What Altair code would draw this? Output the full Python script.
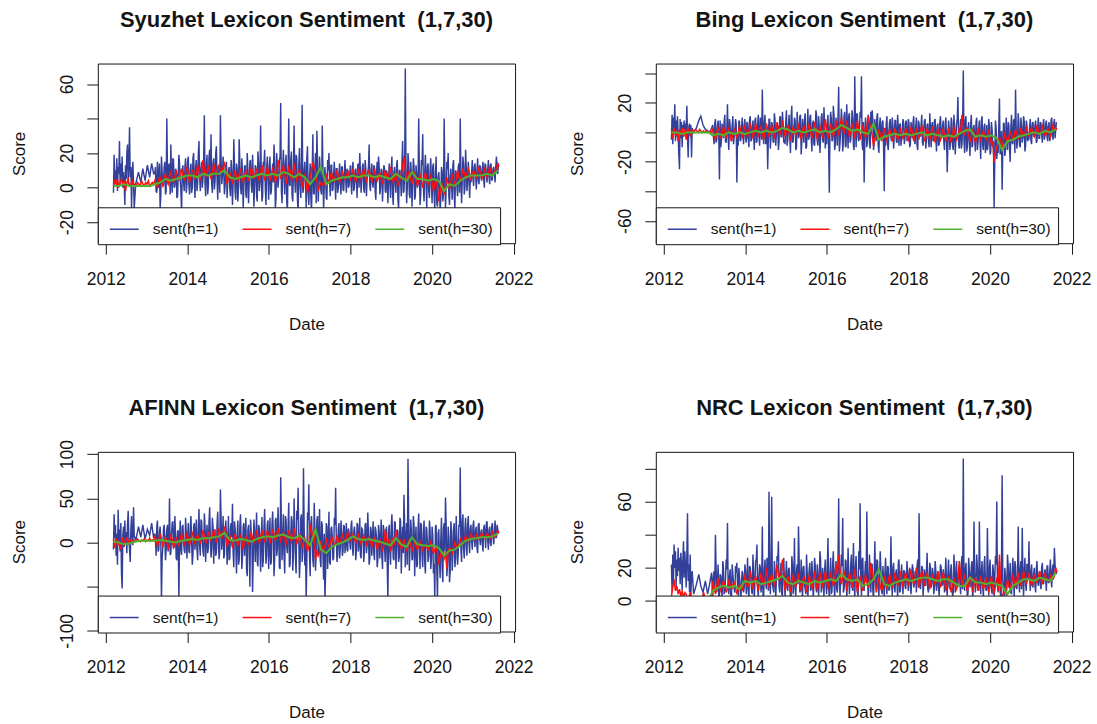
import altair as alt
import pandas as pd

# ---- series names / colours -------------------------------------------------
SERIES = ["sent(h=1)", "sent(h=7)", "sent(h=30)"]
COLORS = ["#33409a", "#ff1010", "#4fb22e"]

# ---- date grids ---------------------------------------------------------------
EARLY_START = "2012-03-10"      # first months, daily scores every ~6 days
GAP_DATES = ["2012-09-25", "2012-10-20", "2012-11-10", "2012-11-28", "2012-12-18",
             "2013-01-08", "2013-01-28", "2013-02-15", "2013-03-05"]
DENSE_START = "2013-03-15"      # regular coverage from here on
MID_START_H1 = "2013-03-21"     # in-between days of the h=1 series
MID_START_H7 = "2013-03-27"     # in-between days of the h=7 series

# ---- Syuzhet ----------------------------------------------------------------
SYUZHET_H1_EARLY = [-3, 19, 2, 10, 4, 17, -2, 12, 8, 27, 1, 14, 6, 18, 0, 9, 3, -10, 13, 5,
                    20, 25, 2, 15, 35, 6, 12, -12, 8, 15, 2, -12]
SYUZHET_H1_GAP = [2, 9, 3, 11, 4, 13, 6, 14, 8]
SYUZHET_H1 = [
    8, -2, 15, 0, -12, 18, 2, 12, -4, 40, 3, 14, 25, -3, 16, 1, 10, -5, 19, 4, -15, 13, -2, 17,
    2, 18, -4, 14, 0, 20, -6, 16, 3, 27, -2, 15, 5, 42, -5, 19, 1, 22, 31, -3, 17, 4, 24, -7, 13, 42, 2, 18, -4, 12,
    -6, 10, 0, 16, -10, 28, -3, 14, -8, 28, 1, 17, -12, 12, -4, 20, -9, 15, 2, 19, -11, 13, -5, 21, -2, 36, -8, 15, 22, -10, 18,
    -7, 18, -2, 14, 25, -12, 20, 0, 16, 49, -9, 22, -4, 19, -13, 40, 1, 21, -8, 36, -3, 17, -14, 23, -6, 48, -1, 15, -12, 24,
    -10, 14, -14, 31, -4, 20, 33, -8, 18, -2, 36, -13, 12, -6, 16, 20, -5, 13, -1, 15, -7, 11, 0, 14, -4, 12, -2, 16, -3, 10,
    1, 13, -4, 15, 0, 11, -6, 14, 20, -3, 12, -1, 16, -5, 9, 25, -2, 14, 0, 12, -7, 15, 18, -4, 11, -8, 13, -2, 10, -9,
    14, -6, 18, -10, 12, -3, 16, -12, 10, -5, 27, -2, 69, -9, 20, -4, 15, -11, 17, -7, 13, 0, 40, -10, 16, 31, -8, 19, -12, 14,
    -6, 17, -9, 14, -13, 18, -11, 9, -14, 12, -8, 40, -12, 15, 20, -10, 11, -7, 16, -13, 8, -5, 14, 40, -9, 18, -4, 22, -2, 15, -6,
    3, 16, 1, 14, -1, 17, 2, 12, 4, 15, 0, 13, 3, 16, 2, 14, 5, 12, 3, 18, 8,
]
SYUZHET_H1_MID = [
    12, -3, 6, 14, -5, 9, 1, 15, -2, 8, 13, -4, 5, 17, 0, 11, -6, 7, 14, -1, 9, 3, 12, -3,
    15, 1, 10, -3, 17, 4, 12, -2, 19, 6, 11, 0, 16, 3, 13, -4, 18, 8, 2, 14, -1, 20, 5, 12, -3, 17, 7, 10, 1, 15,
    4, 12, -5, 9, 3, 14, -7, 11, 0, 15, -4, 8, 2, 13, -6, 10, 4, 16, -3, 7, 1, 12, -8, 14, 3, 9, -5, 13, 0, 11, 6,
    12, -4, 8, 3, 15, -6, 10, 5, 18, -2, 12, 7, 14, -8, 9, 2, 16, -5, 11, 4, 19, -7, 13, 1, 15, -3, 10, 6, 17, -4,
    5, -6, 9, -3, 12, -9, 14, 2, 8, -4, 11, 1, 6, -7, 10, 3, 13, -2, 7, 4, 11, -3, 9, 2, 12, -1, 8, 5, 11, 0,
    8, 3, 12, -2, 10, 5, 13, 0, 9, 4, 14, -3, 11, 6, 12, 1, 10, 3, 13, -2, 9, 6, 12, 0, 10, 4, 11, -3, 8, 5,
    3, 11, -4, 9, 2, 13, -7, 10, 4, 15, -3, 8, 11, 1, 14, -6, 9, 3, 12, -5, 7, 2, 10, -4, 13, 0, 9, 5, 12, -2,
    10, 2, 12, -4, 8, -9, 6, 1, -6, 9, -3, 7, 0, 11, -5, 6, 2, 13, -4, 10, 1, 12, -3, 8, 4, 13, 0, 11, 3, 9, 5,
    9, 5, 12, 7, 10, 4, 13, 6, 11, 5, 14, 7, 10, 6, 13, 4, 11, 8, 12, 9, 14,
]
SYUZHET_H7_EARLY = [1, 4, 2, 5, 0, 3, 5, 1, 4, -2, 3, 5, 1, 2, 4, 1, 2, 1, 3, 2, 1, 4, 2, 1, 3, 2, 4, 1, 2, 3, 2]
SYUZHET_H7 = [
    4, 0, 6, 1, 8, 2, 9, 3, 10, 5, 11, 4,
    12, 3, 10, 5, 13, 4, 16, 6, 12, 5, 14, 7, 13, 9, 14,
    2, 9, 3, 10, 4, 11, 3, 10, 4, 12, 5, 11, 4, 13, 5,
    12, 4, 11, 3, 16, 5, 13, 2, 12, 4, 14, 3, 11, 0, 8,
    -3, 6, 15, 9, -2, 3, 1, 8, 3, 9, 4, 10, 3, 9, 5,
    10, 4, 11, 3, 10, 5, 11, 4, 10, 3, 11, 4, 9, 2, 10,
    4, 12, 3, 9, 1, 8, 18, 5, 10, 2, 9, 1, 8, 0, 9,
    2, 7, -2, 5, -8, 3, -4, 6, -1, 8, 2, 10, 4, 11, 5,
    11, 5, 10, 6, 12, 5, 11, 6, 12, 7, 10, 14,
]
SYUZHET_H7_MID = [
    2, 5, 3, 6, 4, 7, 5, 6, 7, 8, 7, 9,
    8, 7, 9, 8, 10, 9, 11, 10, 9, 8, 10, 11, 9, 12, 10,
    6, 5, 7, 6, 8, 7, 6, 8, 7, 9, 8, 7, 9, 8, 7,
    8, 7, 9, 7, 11, 8, 9, 7, 10, 8, 9, 7, 6, 4, 3,
    2, 10, 12, 4, 1, 2, 4, 5, 6, 5, 7, 6, 6, 7, 6,
    7, 8, 6, 7, 8, 7, 6, 8, 7, 6, 7, 6, 5, 6, 7,
    8, 7, 5, 4, 5, 12, 10, 7, 5, 6, 4, 5, 4, 5, 4,
    5, 3, 2, 0, -3, -1, 1, 2, 3, 4, 5, 6, 7, 8, 8,
    8, 7, 8, 9, 8, 7, 9, 8, 9, 8, 11, 12,
]
SYUZHET_H30_EARLY = [1, 1, 2, 1, 1, 1, 1, 1]
SYUZHET_H30 = [2, 3, 5, 4, 5, 6, 7, 7, 6, 8, 7, 8, 8, 10, 6, 5, 6, 7, 6, 7, 8, 7, 8, 7, 9, 8,
               6, 8, 6, 2, 6, 12, 2, 4, 5, 6, 6, 7, 6, 7, 7, 6, 7, 6, 5, 8, 6, 4, 9, 5, 5, 4,
               5, 4, -2, 2, 1, 4, 6, 7, 7, 7, 8, 7, 10]

# ---- Bing ---------------------------------------------------------------------
BING_H1_EARLY = [-5, 12, -8, 10, 2, 19, -6, 8, -3, 11, 0, -15, -25, 9, -4, 7, -10, 5, 2, 8,
                 -2, 6, 1, 18, -3, -17, 4, 6, -2, 5, -17, 3]
BING_H1_GAP = [0, 3, 8, 11, 5, 2, 1, 0, 3]
BING_H1 = [
    5, -8, 9, -5, 8, -32, -10, 6, -4, 12, -7, 19, -12, 4, -6, 11, -3, 9, -34, -9, 7, -5, 10, -8,
    9, -7, 6, -10, 11, -5, 8, -12, 10, -6, 12, -9, 7, 29, -8, 12, -4, -25, 9, -11, 7, -6, 13, -9, 5, -12, 10, -3, 14, -7,
    -8, 15, -5, 12, -14, 18, -6, 10, -12, 14, -4, 11, -15, 9, -7, 13, -10, 16, -3, 12, -13, 8, -9, 15, -6, 11, -14, 10, -5, 17, -11,
    -8, 12, -41, 14, -6, 18, -12, 10, -9, 31, -7, 16, -13, 11, -10, 19, -11, 13, -5, 15, -9, 38, -10, 12, -6, 14, 38, -12, -34, 10,
    -10, 12, -8, 14, 15, -12, 9, -6, 13, -14, 10, -5, 8, -40, -9, 11, -12, 7, -4, 10, -11, 8, -6, 12, -9, 6, -3, 9, -8, 7,
    -6, 9, -10, 7, -4, 11, -8, 10, -12, 6, -3, 12, -9, 8, -11, 5, -6, 13, -10, 7, -5, 9, -13, 6, -8, 11, -4, 8, -12, 10,
    -27, 8, -12, 10, -9, 12, -15, 6, 24, -11, 9, -8, 42, -14, 11, -10, 7, -16, 12, -9, 5, -13, 10, -7, 8, -18, 11, -12, 6, -10,
    -12, 9, -15, 7, -10, -52, 8, -18, -14, 23, -10, -39, 6, -16, 10, -12, 5, -20, 12, -8, 9, 29, -11, 13, -9, 10, -7, 11, -13, 8, -6,
    -5, 9, -8, 7, -3, 8, -6, 10, -4, 6, -7, 9, -2, 8, -6, 7, -3, 10, -5, 9, 2,
]
BING_H1_MID = [
    -3, 6, -7, 4, -1, 8, -5, 3, 7, -6, 2, -4, 9, -2, 5, -8, 1, 6, -3, 8, -6, 3, -1, 5,
    -4, 7, -2, 9, -6, 4, -1, 8, -7, 5, -3, 10, -5, 2, 6, -8, 3, -4, 9, -2, 5, -7, 8, -1, 4, -6, 11, -3, 6, -5,
    7, -9, 4, -3, 11, -7, 2, 8, -10, 5, -2, 12, -6, 3, 9, -11, 1, -5, 10, -4, 6, -8, 2, 11, -9, 4, -3, 13, -7, 5, 1,
    6, -11, 3, 9, -5, 12, -8, 4, 10, -13, 2, 8, -6, 14, -9, 5, 11, -7, 3, 9, -12, 6, 13, -4, 2, 10, -8, 7, -6, 4,
    -5, 9, -11, 4, 8, -7, 2, 10, -9, 5, -3, 7, -10, 3, 6, -8, 1, 9, -6, 4, -2, 8, -7, 3, 5, -9, 2, 6, -4, 8,
    -3, 6, -8, 2, 7, -5, 4, -9, 8, -2, 5, -7, 3, 9, -4, 6, -10, 2, 5, -6, 8, -3, 4, -9, 7, -1, 3, -7, 6, -4,
    -9, 3, -6, 7, -12, 4, -3, 9, -8, 2, -11, 6, -5, 8, -13, 1, -7, 5, -10, 3, -4, 7, -12, 2, -6, 8, -9, 4, -14, 5,
    -8, 4, -13, 2, -6, -18, 3, -10, 5, -15, 1, -9, 6, -12, -2, 7, -11, 3, -7, 8, -14, 2, -5, 6, -10, 4, -3, 7, -9, 5, -4,
    4, -6, 6, -2, 5, -7, 3, -4, 7, -1, 5, -5, 6, -3, 4, -6, 8, -2, 6, -4, 7,
]
BING_H7_EARLY = [2, -4, 3, -2, 1, -6, 2, -1, 3, -3, 2, -5, 3, 1, -2, 2, 0, 1, 2, 1, 0, 2, 1, 0, 1, 0, 1, 0, 0, 1, 0]
BING_H7 = [
    2, -5, 3, -4, 4, -3, 3, -6, 2, -4, 5, -3,
    4, -3, 5, -4, 6, -2, 4, -5, 6, -3, 5, -4, 7, -2, 8,
    -3, 5, -6, 4, -2, 6, -5, 5, -3, 6, -4, 7, -5, 4, -3,
    9, -4, 6, -3, 8, -2, 10, -1, 7, -3, 6, -4, 8, -5, 5,
    -4, 11, 3, -9, -4, 2, -6, 3, -5, 2, -6, 3, -5, 2, -4,
    3, -5, 4, -6, 2, -4, 5, -6, 3, -5, 4, -7, 2, -5, 3,
    -6, 3, -7, 4, -5, 2, 12, -2, 3, -6, 2, -7, 3, -5, 1,
    -5, 2, -8, -20, -10, -3, -12, -1, -7, 0, -5, 2, -4, 3, -3,
    4, -2, 3, -3, 5, -1, 4, -2, 3, -3, 5, 3,
]
BING_H7_MID = [
    -1, 0, 1, -1, 0, 1, -2, 0, 1, -1, 0, 1,
    0, 1, 2, 0, 1, 2, 0, 1, 2, 1, 0, 2, 3, 2, 3,
    1, 0, -1, 1, 2, 0, 1, 0, 2, 1, 0, 2, 1, 0, 1,
    2, 1, 3, 1, 2, 4, 3, 5, 2, 1, 3, 1, 2, 0, 1,
    3, 6, -2, -4, -3, -1, -2, -1, -2, -1, -3, -1, -2, -1, -2,
    -1, -2, 0, -1, -2, 0, -1, -3, -1, 0, -2, -1, -2, -1, -2,
    -2, -3, -1, -2, -3, 0, 4, 2, -2, -3, -1, -3, -2, -1, -3,
    -2, -4, -6, -14, -8, -6, -5, -4, -3, -2, -3, -1, -2, 0, -1,
    0, 1, -1, 0, 1, 0, 1, -1, 0, 1, 2, 2,
]
BING_H30_EARLY = [0, 0, -1, 0, 0, 0, 0, 0]
BING_H30 = [-2, -1, -2, 0, -1, 0, -1, 0, 1, 0, 1, 0, 1, 3, 2, 0, 1, 0, 1, 2, 0, 1, 0, 2, 5, 3,
            1, 2, 0, -1, 6, -5, -3, -2, -1, -2, -1, -2, -1, 0, -2, -1, -2, -3, -2, -3, -1, 1,
            2, -3, -2, -3, -2, -4, -12, -6, -5, -3, -2, -1, 0, -1, 1, 0, 2]

# ---- AFINN --------------------------------------------------------------------
AFINN_H1_EARLY = [-8, 32, 5, 20, -15, 10, -25, 37, 2, 15, -10, 22, -35, -52, 8, 18, -5, 25, 0, 12,
                  -12, 20, 36, 4, -8, -22, 15, 30, 5, -3, 40, 8]
AFINN_H1_GAP = [2, 18, 6, 20, 4, 15, 8, 22, 5]
AFINN_H1 = [
    10, -15, 25, -8, 18, -65, -5, 20, -20, 15, -10, 50, -12, 22, -6, 30, -18, 12, -65, 25, -14, 20, -9, 28,
    -18, 22, -12, 30, -25, 18, -8, 26, -20, 38, -15, 24, -10, 33, -22, 20, -6, 40, -17, 28, -24, 15, -11, 35, -19, 60, -8, 30, -14, 25,
    -25, 30, -18, 22, 44, -28, 15, -35, 25, -20, 32, -30, 18, -15, 28, -38, 20, -50, 12, -56, 26, -22, 34, -27, 16, -33, 29, -20, 38, -24, 21,
    -30, 28, -22, 35, -38, 25, -15, 40, -28, 74, -20, 32, -35, 26, -12, 45, -25, 30, -32, 50, -18, 36, 62, -40, 28, -22, 84, -26, -65, 34,
    66, -38, 30, -20, 45, -32, 25, -15, 38, -28, 20, -42, -65, 22, -30, 35, -25, 18, -20, 28, 62, -22, 15, -18, 25, -15, 20, -12, 22, -10,
    12, -8, 25, -15, 18, -20, 22, -10, 28, -18, 15, -22, 20, -12, 34, -25, 18, -15, 24, -20, 14, -28, 20, -18, 26, -30, 15, -22, 18, -65,
    20, -25, 32, -18, 24, -30, 15, -22, 28, -35, 18, 54, -28, 22, 95, -32, 26, -20, 30, -38, 18, -25, 33, -30, 20, -28, 25, -35, 15, -22,
    25, -30, 18, -35, -65, 20, -65, 15, -40, 28, -45, 22, 51, -38, 18, -45, 24, -32, 15, -28, 30, -25, 20, 85, -22, 32, -18, 28, -15, 30, -12,
    20, -8, 25, -5, 18, -12, 22, -3, 15, -10, 20, -6, 24, -8, 18, -4, 22, -2, 25, 5, 15,
]
AFINN_H1_MID = [
    5, 18, -10, 12, 2, -18, 15, 6, -8, 20, 0, -14, 10, 24, -5, 8, -20, 14, 3, -9, 18, 1, -12, 11,
    4, -10, 18, 2, -14, 22, 6, -8, 15, -3, 26, 1, -16, 19, 8, -12, 24, 3, -6, 17, 10, -15, 21, 0, -9, 28, 5, -18, 14, 9,
    2, -20, 16, 6, -12, 24, -4, 10, -25, 19, 3, -15, 22, 7, -30, 14, -5, 26, 0, -18, 12, 5, -22, 20, -2, 9, -28, 17, 4, -14, 25,
    0, -25, 20, 6, -18, 28, -8, 14, -30, 22, 3, -15, 30, -5, 18, -28, 10, 24, -12, 16, -35, 26, 4, -20, 32, -10, 18, 2, -22, 25,
    -15, 22, 5, -28, 16, -8, 30, 2, -20, 24, -12, 10, -35, 18, 0, -22, 15, 6, -18, 20, 3, -14, 22, -5, 12, -10, 18, 2, -8, 16,
    2, 18, -5, 12, 8, -10, 20, 0, -14, 16, 5, -8, 22, -3, 10, -18, 14, 4, -12, 18, 6, -20, 12, 2, -16, 20, -4, 10, -24, 12,
    -10, 18, 4, -20, 22, -6, 12, -16, 24, 0, -12, 20, 6, -25, 26, -8, 14, -18, 20, 2, -28, 16, -4, 22, -14, 10, -22, 18, 0, -15,
    14, -18, 8, -24, 18, -30, 10, -20, 4, -28, 16, -10, 20, -25, 6, -32, 12, -14, 22, -18, 2, -12, 18, -8, 24, -6, 15, -4, 20, 0, 16,
    2, 18, 4, 14, -6, 20, 6, 12, -2, 16, 8, 22, 3, 14, 0, 19, 6, 12, 8, 20, 10,
]
AFINN_H7_EARLY = [4, -6, 5, -3, 2, -8, 0, 6, -4, 3, 5, -2, 4, 2, 0, 3, 1, 2, 4, 2, 1, 3, 2, 4, 1, 3, 2, 5, 2, 3, 2]
AFINN_H7 = [
    8, -4, 10, -5, 6, -8, 9, -6, 5, -4, 10, -2,
    10, -3, 12, -2, 9, 0, 14, -1, 12, 2, 15, 0, 16, 5, 18,
    -5, 8, -6, 10, -4, 9, -8, 7, -3, 12, 0, 14, -1, 13, 2,
    14, -1, 15, 2, 17, 0, 12, -3, 14, 1, 16, -2, 10, -6, 5,
    -10, 20, 8, -20, -15, 2, -8, 5, -5, 7, -3, 8, -1, 10, 2,
    12, 3, 10, 0, 9, -2, 8, -4, 6, -5, 5, -8, 3, -10, 15,
    -2, -10, 6, 14, -3, -8, 4, -10, 3, -9, 2, -8, 1, -10, -2,
    -8, 2, -12, -5, -25, -10, -18, -30, -6, -12, 0, -5, 4, -2, 8,
    2, 10, 3, 9, 4, 11, 5, 10, 4, 12, 6, 14,
]
AFINN_H7_MID = [
    3, 2, 4, 1, 2, 0, 3, 1, 2, 3, 4, 3,
    5, 4, 6, 5, 4, 6, 7, 5, 6, 7, 8, 6, 9, 10, 12,
    3, 2, 4, 3, 2, 1, 3, 2, 5, 4, 6, 7, 6, 8, 7,
    8, 7, 9, 8, 10, 7, 6, 5, 7, 6, 8, 4, 3, 0, -2,
    -4, 12, 16, -8, -12, -6, -4, -2, -1, 1, 0, 2, 3, 4, 5,
    7, 6, 5, 4, 3, 4, 3, 2, 1, 2, 0, -1, -2, -3, 4,
    5, -4, -3, 6, 4, -2, -3, -4, -2, -5, -3, -4, -3, -4, -5,
    -4, -6, -8, -12, -16, -14, -10, -9, -8, -6, -4, -2, 0, 2, 3,
    5, 6, 5, 7, 6, 7, 6, 8, 7, 8, 9, 11,
]
AFINN_H30_EARLY = [1, 0, -2, -1, 1, 2, 2, 2]
AFINN_H30 = [2, 3, 2, 1, 0, 2, 3, 4, 3, 5, 5, 6, 7, 11, 3, 2, 4, 3, 1, 4, 6, 7, 6, 8, 9, 6,
             5, 8, 3, -3, 15, -8, -12, -5, -2, 0, 3, 7, 4, 3, 4, 2, 1, -1, -3, 5, -2, -5, 6,
             -2, -3, -4, -3, -6, -15, -9, -8, -3, 2, 4, 5, 6, 6, 7, 10]

# ---- NRC ----------------------------------------------------------------------
NRC_H1_EARLY = [22, 5, 28, 12, 34, 20, 30, 8, 25, 15, 32, 18, 26, 10, 29, 22, 6, 24, 36, 14,
                30, 20, 8, 27, 53, 12, 22, 5, 28, 3, 15, 18]
NRC_H1_GAP = [4, 10, 16, 9, 5, 12, 4, 10, 17]
NRC_H1 = [
    2, 18, 40, 5, 22, 3, 15, 1, 20, 6, 25, 47, 4, 19, 2, 16, 7, 21, 23, 3, 14, 0, 18, 5,
    22, 4, 26, 2, 20, 6, 28, 1, 24, 34, 3, 22, 5, 45, 2, 25, 7, 20, 66, 4, 63, 8, 24, 1, 27, 36, 5, 23, 3, 26,
    2, 24, 6, 20, 1, 27, 4, 38, 3, 22, 45, 5, 25, 0, 21, 7, 28, 2, 19, 6, 24, 1, 26, 8, 22, 3, 30, 5, 20, 2, 25,
    4, 38, 2, 26, 6, 30, 1, 24, 5, 62, 3, 28, 50, 7, 25, 2, 32, 4, 22, 8, 35, 1, 27, 5, 30, 59, 3, 26, 6, 24,
    54, 2, 28, 5, 22, 1, 36, 8, 24, 3, 30, 6, 21, 2, 26, 4, 20, 7, 39, 3, 23, 5, 19, 1, 25, 6, 22, 4, 18, 7,
    24, 6, 20, 4, 22, 8, 18, 5, 25, 53, 7, 21, 3, 19, 9, 29, 5, 23, 8, 20, 4, 24, 6, 18, 3, 22, 9, 19, 5, 26,
    3, 25, 7, 22, 2, 28, 5, 24, 9, 20, 4, 27, 86, 6, 23, 3, 26, 8, 21, 1, 48, 5, 28, 7, 48, 4, 24, 2, 27, 6,
    44, 3, 25, 7, 22, 2, 27, 60, 5, 24, 1, 76, 6, 20, 3, 28, 8, 23, 4, 26, 2, 21, 7, 45, 5, 24, 44, 3, 26, 6, 22,
    36, 6, 22, 8, 20, 5, 24, 9, 18, 7, 23, 10, 19, 6, 21, 11, 25, 8, 22, 32, 18,
]
NRC_H1_MID = [
    14, 6, 20, 9, 3, 16, 10, 24, 4, 13, 19, 7, 15, 2, 22, 11, 5, 17, 9, 20, 6, 12, 16, 8,
    18, 10, 6, 21, 13, 4, 17, 11, 25, 7, 15, 20, 9, 3, 19, 12, 26, 6, 14, 22, 10, 5, 18, 13, 24, 9, 16, 4, 20, 12,
    15, 8, 19, 11, 3, 22, 13, 7, 18, 10, 24, 6, 14, 20, 9, 4, 17, 12, 23, 7, 15, 10, 21, 5, 16, 12, 25, 8, 14, 18, 10,
    20, 9, 15, 4, 22, 12, 18, 7, 26, 10, 16, 21, 5, 14, 24, 9, 17, 11, 28, 6, 15, 20, 10, 3, 19, 13, 25, 8, 16, 11,
    18, 9, 14, 22, 6, 16, 12, 25, 8, 15, 19, 4, 13, 17, 10, 21, 6, 14, 11, 20, 8, 16, 12, 23, 5, 15, 10, 18, 9, 14,
    12, 17, 9, 14, 19, 10, 15, 21, 8, 16, 12, 20, 10, 15, 18, 7, 14, 20, 11, 16, 9, 18, 13, 8, 15, 20, 10, 14, 17, 9,
    16, 9, 18, 12, 5, 20, 14, 8, 17, 11, 22, 7, 15, 19, 10, 4, 18, 13, 24, 9, 16, 12, 20, 6, 15, 18, 9, 21, 12, 8,
    15, 20, 10, 4, 18, 13, 22, 9, 16, 6, 19, 12, 3, 15, 8, 21, 11, 5, 17, 14, 24, 9, 16, 11, 20, 7, 15, 18, 10, 22, 13,
    14, 18, 11, 16, 9, 19, 13, 15, 10, 20, 12, 16, 14, 21, 11, 17, 13, 19, 15, 22, 16,
]
NRC_H7_EARLY = [3, 8, 13, 6, 9, 4, 7, 3, 6, 2, 5, 4, 1, 2, 5, 1, 0, 2, 1, 0, 1, 2, 0, 1, 5, 2, 0, 1, 0, 2, 1]
NRC_H7 = [
    12, 4, 14, 6, 12, 5, 13, 7, 11, 4, 10, 6,
    16, 8, 18, 7, 15, 6, 17, 9, 20, 8, 16, 10, 22, 12, 25,
    6, 15, 5, 16, 8, 17, 6, 15, 5, 16, 7, 18, 6, 17, 8,
    18, 7, 17, 9, 22, 28, 10, 18, 6, 17, 8, 19, 5, 15, 6,
    16, 8, 23, 12, 5, 14, 6, 15, 7, 16, 8, 17, 9, 18, 8,
    17, 9, 19, 10, 20, 8, 18, 9, 17, 7, 16, 10, 18, 8, 17,
    6, 15, 5, 14, 7, 24, 9, 16, 6, 15, 5, 14, 6, 15, 7,
    14, 5, 15, 4, 14, 28, 3, 6, 13, 7, 16, 8, 17, 9, 18,
    10, 17, 9, 16, 11, 18, 10, 17, 12, 16, 13, 20,
]
NRC_H7_MID = [
    8, 9, 8, 10, 9, 8, 9, 10, 8, 7, 9, 10,
    12, 11, 13, 12, 11, 12, 13, 12, 14, 13, 12, 13, 15, 16, 17,
    11, 10, 12, 11, 12, 10, 11, 12, 10, 11, 12, 11, 12, 13, 12,
    13, 12, 13, 12, 16, 18, 14, 13, 12, 13, 12, 13, 10, 9, 10,
    11, 13, 18, 15, 10, 9, 10, 11, 12, 11, 12, 13, 12, 13, 14,
    13, 14, 13, 14, 15, 14, 13, 14, 13, 12, 13, 12, 13, 12, 13,
    10, 9, 10, 9, 12, 15, 13, 11, 10, 11, 10, 11, 10, 11, 10,
    9, 10, 8, 9, 6, 8, 4, 7, 9, 11, 12, 13, 12, 13, 14,
    13, 12, 13, 12, 14, 13, 14, 13, 12, 13, 15, 17,
]
NRC_H30_EARLY = [1, 2, 2, 1, 1, 1, 1, 1]
NRC_H30 = [6, 8, 9, 8, 9, 7, 12, 11, 12, 10, 11, 12, 13, 15, 11, 10, 12, 11, 10, 12, 11, 12,
           13, 12, 16, 13, 12, 13, 9, 10, 13, 19, 10, 9, 11, 12, 13, 12, 13, 14, 14, 13, 12,
           13, 13, 11, 9, 9, 14, 11, 11, 10, 11, 10, 9, 4, 9, 11, 13, 13, 12, 14, 13, 12, 17]


def dates(start, n, step):
    return list(pd.date_range(start, periods=n, freq=step))


def frame(h1_early, h1_gap, h1, h1_mid, h7_early, h7, h7_mid, h30_early, h30):
    parts = [
        (SERIES[0],
         dates(EARLY_START, len(h1_early), "6D") + list(pd.to_datetime(GAP_DATES))
         + dates(DENSE_START, len(h1), "12D") + dates(MID_START_H1, len(h1_mid), "12D"),
         h1_early + h1_gap + h1 + h1_mid),
        (SERIES[1],
         dates(EARLY_START, len(h7_early), "12D") + dates(DENSE_START, len(h7), "24D")
         + dates(MID_START_H7, len(h7_mid), "24D"),
         h7_early + h7 + h7_mid),
        (SERIES[2],
         dates(EARLY_START, len(h30_early), "48D") + dates(DENSE_START, len(h30), "48D"),
         h30_early + h30),
    ]
    frames = [pd.DataFrame({"date": d, "value": v, "series": s}) for s, d, v in parts]
    return pd.concat(frames, ignore_index=True).sort_values(["series", "date"])


FONT = "Liberation Sans"
INK = "#141414"
PLOT_W, PLOT_H = 418, 180
X_DOMAIN = [alt.DateTime(year=2011, month=10, date=22), alt.DateTime(year=2022, month=1, date=14)]
YEAR_TICKS = [alt.DateTime(year=y, month=1, date=1) for y in range(2012, 2023, 2)]


def panel(title, df, y_domain, y_ticks, y_labelled):
    expr = "indexof([%s], datum.value) >= 0 ? '' + datum.value : ''" % ",".join(str(v) for v in y_labelled)
    x = alt.X("date:T", scale=alt.Scale(domain=X_DOMAIN),
              axis=alt.Axis(values=YEAR_TICKS, format="%Y", title="Date", labelAngle=0,
                            labelPadding=16, tickSize=11, domain=False, grid=False,
                            labelFlush=False, labelOverlap=False,
                            titleX=PLOT_W / 2, titleY=81, titleBaseline="middle"))
    y = alt.Y("value:Q", scale=alt.Scale(domain=y_domain, nice=False, zero=False),
              axis=alt.Axis(values=y_ticks, labelExpr=expr, title="Score", labelAngle=270,
                            labelAlign="center", labelBaseline="bottom", labelPadding=10,
                            tickSize=11, domain=False, grid=False, labelFlush=False,
                            labelOverlap=False, titleX=-78, titleY=PLOT_H / 2, titleAngle=270,
                            titleAlign="center", titleBaseline="middle"))
    color = alt.Color("series:N", scale=alt.Scale(domain=SERIES, range=COLORS),
                      legend=alt.Legend(orient="none", legendX=0, legendY=144, direction="horizontal",
                                        title=None, fillColor="white", strokeColor=INK, padding=6.5,
                                        symbolType="stroke", symbolSize=841, symbolStrokeWidth=1.5,
                                        symbolOffset=4.5, labelFont=FONT, labelFontSize=15.5,
                                        labelColor=INK, labelOffset=13, columnPadding=9,
                                        gridAlign="all"))
    base = alt.Chart(df)
    layers = [
        base.transform_filter(alt.datum.series == s)
        .mark_line(strokeWidth=w, clip=True)
        .encode(x=x, y=y, color=color)
        for s, w in zip(SERIES, [1.45, 1.5, 2.0])
    ]
    heading = (
        alt.Chart(pd.DataFrame({"heading": [title]}))
        .mark_text(font=FONT, fontSize=22, fontWeight="bold", color=INK,
                   align="center", baseline="middle")
        .encode(text="heading:N", x=alt.value(PLOT_W / 2), y=alt.value(-44))
    )
    return alt.layer(*layers, heading).properties(width=PLOT_W, height=PLOT_H)


NB = "\u00a0"   # keeps the double gap before the window list
p1 = panel(f"Syuzhet Lexicon Sentiment{NB} (1,7,30)",
           frame(SYUZHET_H1_EARLY, SYUZHET_H1_GAP, SYUZHET_H1, SYUZHET_H1_MID,
                 SYUZHET_H7_EARLY, SYUZHET_H7, SYUZHET_H7_MID, SYUZHET_H30_EARLY, SYUZHET_H30),
           [-32.2, 71.9], [-20, 0, 20, 40, 60], [-20, 0, 20, 60])
p2 = panel(f"Bing Lexicon Sentiment{NB} (1,7,30)",
           frame(BING_H1_EARLY, BING_H1_GAP, BING_H1, BING_H1_MID,
                 BING_H7_EARLY, BING_H7, BING_H7_MID, BING_H30_EARLY, BING_H30),
           [-75.2, 46.7], [-60, -40, -20, 0, 20, 40], [-60, -20, 20])
p3 = panel(f"AFINN Lexicon Sentiment{NB} (1,7,30)",
           frame(AFINN_H1_EARLY, AFINN_H1_GAP, AFINN_H1, AFINN_H1_MID,
                 AFINN_H7_EARLY, AFINN_H7, AFINN_H7_MID, AFINN_H30_EARLY, AFINN_H30),
           [-100.7, 102.7], [-100, -50, 0, 50, 100], [-100, 0, 50, 100])
p4 = panel(f"NRC Lexicon Sentiment{NB} (1,7,30)",
           frame(NRC_H1_EARLY, NRC_H1_GAP, NRC_H1, NRC_H1_MID,
                 NRC_H7_EARLY, NRC_H7, NRC_H7_MID, NRC_H30_EARLY, NRC_H30),
           [-18.6, 90.1], [0, 20, 40, 60, 80], [0, 20, 60])

chart = (
    alt.concat(p1, p2, p3, p4, columns=2, spacing={"row": 209, "column": 141}, bounds="flush")
    .resolve_scale(x="independent", y="independent", color="independent")
    .resolve_legend(color="independent")
    .properties(padding={"left": 10, "top": 7, "right": 5, "bottom": 5}, background="white")
    .configure_view(stroke=INK, strokeWidth=1)
    .configure_axis(labelFont=FONT, labelFontSize=17.5, labelColor=INK, titleFont=FONT,
                    titleFontSize=17, titleFontWeight="normal", titleColor=INK,
                    tickColor=INK, tickWidth=1)
)

chart.save("out.html", embed_options={"renderer": "svg", "actions": False})
